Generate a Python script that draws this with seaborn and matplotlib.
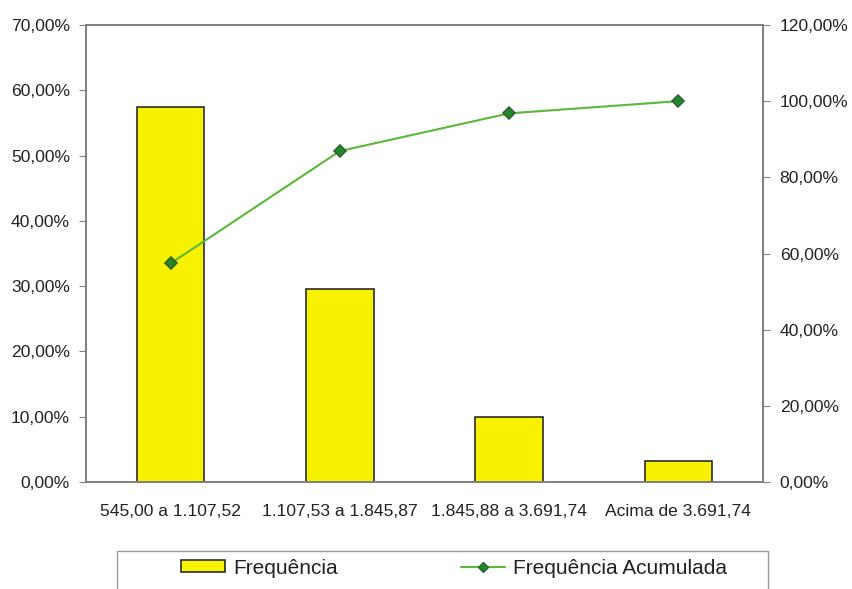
import matplotlib
matplotlib.use("Agg")
import matplotlib.pyplot as plt
from matplotlib.ticker import FuncFormatter, FixedLocator
from matplotlib.patches import Rectangle
from matplotlib.lines import Line2D
import seaborn as sns
import pandas as pd

# Faixas salariais e frequências (%)
faixas = ["545,00 a 1.107,52", "1.107,53 a 1.845,87",
          "1.845,88 a 3.691,74", "Acima de 3.691,74"]
frequencia = [57.4, 29.5, 9.9, 3.2]
freq_acumulada = [57.4, 86.9, 96.8, 100.0]

df = pd.DataFrame({"faixa": faixas, "freq": frequencia, "acum": freq_acumulada})

sns.set_style("white")
plt.rcParams["font.family"] = ["Liberation Sans", "DejaVu Sans"]

txt = "#222222"
grid_c = "#808080"
bar_c = "#f7f200"
line_c = "#5cb83a"

fig = plt.figure(figsize=(8.52, 5.89), dpi=100)
ax = fig.add_axes([86 / 852, 1 - 482 / 589, (763 - 86) / 852, (482 - 25) / 589])

sns.barplot(data=df, x="faixa", y="freq", ax=ax, color=bar_c,
            edgecolor="#1a1a1a", linewidth=1.1, width=0.40, saturation=1)

ax2 = ax.twinx()
sns.pointplot(data=df, x="faixa", y="acum", ax=ax2, color=line_c,
              markers="D", linestyles="-", linewidth=1.5,
              markersize=6, markerfacecolor="#1f8a2c", markeredgecolor="#2f5e2f")

ax.set_xlim(-0.5, 3.5)
ax.set_ylim(0, 70)
ax2.set_ylim(0, 120)
ax.yaxis.set_major_locator(FixedLocator(range(0, 71, 10)))
ax2.yaxis.set_major_locator(FixedLocator(range(0, 121, 20)))

fmt = FuncFormatter(lambda v, p: f"{v:.2f}".replace(".", ",") + "%")
ax.yaxis.set_major_formatter(fmt)
ax2.yaxis.set_major_formatter(fmt)

# category labels centred, tick marks on the boundaries
ax.set_xticks(range(len(faixas)))
ax.set_xticklabels(faixas)
ax.set_xticks([0.5, 1.5, 2.5], minor=True)
ax.tick_params(axis="x", which="major", length=0, pad=16, labelsize=12.6, labelcolor=txt)
ax.tick_params(axis="x", which="minor", length=5, color=grid_c, direction="out")
ax.tick_params(axis="y", length=5, color=grid_c, direction="out", labelsize=12.6,
               labelcolor=txt, pad=6.5, left=True)
ax2.tick_params(axis="y", length=5, color=grid_c, direction="out", labelsize=12.6,
                labelcolor=txt, pad=7, right=True)
ax.set_xlabel("")
ax.set_ylabel("")
ax2.set_ylabel("")

for a in (ax, ax2):
    for s in a.spines.values():
        s.set_visible(True)
        s.set_color(grid_c)
        s.set_linewidth(1.2)

# legend box (runs past the bottom edge)
fig.patches.append(Rectangle((117 / 852, -0.05), (768 - 117) / 852, 0.05 + 1 - 551 / 589,
                             transform=fig.transFigure, fill=False,
                             edgecolor="#9a9a9a", linewidth=1.0))
handles = [
    Rectangle((0, 0), 1, 1, facecolor=bar_c, edgecolor="#1a1a1a", linewidth=1.1),
    Line2D([], [], color=line_c, linewidth=1.5, marker="D", markersize=5,
           markerfacecolor="#1f8a2c", markeredgecolor="#2f5e2f"),
]
fig.legend(handles, ["Frequência", "Frequência Acumulada"], ncol=2, frameon=False,
           loc="center", bbox_to_anchor=(454 / 852, 1 - 568 / 589),
           fontsize=15, handlelength=2.1, handleheight=0.5, columnspacing=5.9,
           handletextpad=0.4, labelcolor=txt)

fig.savefig("out.png", dpi=100, facecolor="white")
